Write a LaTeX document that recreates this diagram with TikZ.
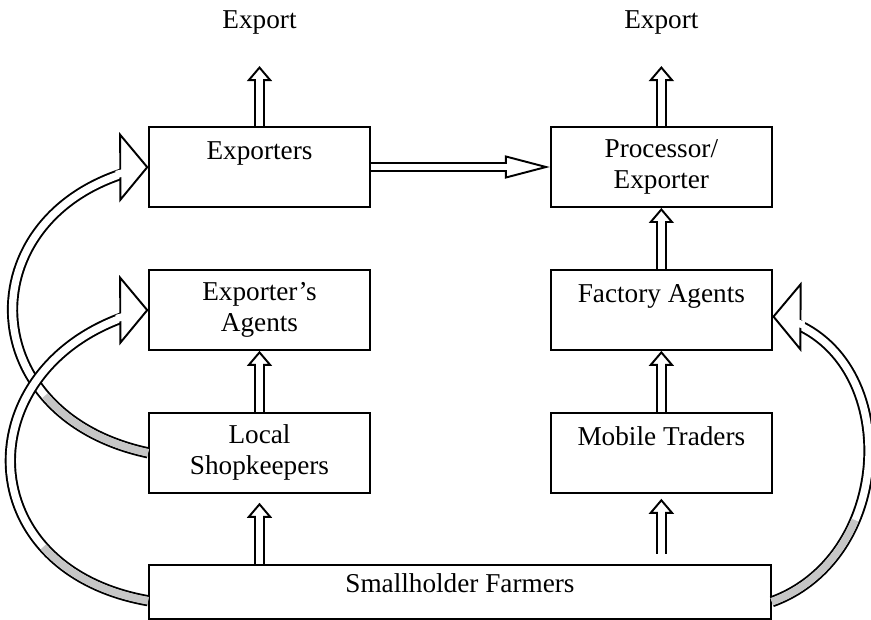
\documentclass[tikz,border=0pt]{standalone}
\usepackage{fontspec}
\setmainfont{Liberation Serif}
\usetikzlibrary{positioning,arrows.meta,decorations.markings}

\begin{document}
\begin{tikzpicture}[
  x=0.02cm, y=-0.02cm,
  font=\fontsize{15.5}{17.5}\selectfont,
  box/.style={draw, line width=1.1pt, align=center, minimum width=4.42cm,
    minimum height=1.6cm},
  raised/.style={text height=11pt, text depth=19pt},
  flow/.style={line width=6pt,
    -{Triangle[open, length=0.3cm, width=0.5cm, line width=1.1pt]},
    postaction={draw=white, line width=3.8pt, arrows=-, shorten >=0.24cm}},
  wide/.style={line width=5.5pt,
    -{Triangle[open, length=0.9cm, width=0.46cm, line width=1.1pt]},
    postaction={draw=white, line width=3.4pt, arrows=-, shorten >=0.84cm}},
  bypass/.style={line width=6.4pt, shorten >=4pt,
    postaction={draw=white, line width=4.2pt},
    postaction={draw=gray!45, line width=4.2pt,
      dash pattern=on 2.4cm off 50cm},
    postaction={shorten >=0pt, decorate, decoration={markings,
      mark=at position 0.998 with {
      \draw[black, line width=1.1pt, fill=white, rotate=#1]
        (0,0) -- (-0.54cm,0.65cm) -- (-0.54cm,-0.65cm) -- cycle;
      \fill[white] (-0.64cm,-2.1pt) rectangle (-0.45cm,2.1pt);}}}},
]
\useasboundingbox (0,0) rectangle (871,619);
\node[box, raised] (exp) at (259.5,167) {Exporters};
\node[box, right=3.58cm of exp] (proc) {Processor/\\Exporter};
\node[box, below=1.22cm of exp] (agents) {Exporter's\\Agents};
\node[box, below=1.22cm of agents] (shop) {Local\\Shopkeepers};
\node[box, raised, below=1.22cm of proc] (factory) {Factory Agents};
\node[box, raised, below=1.22cm of factory] (mobile) {Mobile Traders};
\node[box, minimum width=12.44cm, minimum height=1.08cm, inner ysep=2pt,
  text height=11pt, text depth=10pt, below=1.4cm of shop.south west,
  anchor=north west] (farm) {Smallholder Farmers};
\node[above=1.72cm of exp] (out1) {Export};
\node[above=1.72cm of proc] (out2) {Export};
% straight flows
\draw[flow] (exp.north) -- ([yshift=-0.52cm]out1.south);
\draw[flow] (proc.north) -- ([yshift=-0.52cm]out2.south);
\draw[wide] (exp.east) -- (proc.west);
\draw[flow] (shop.north) -- (agents.south);
\draw[flow] (farm.north -| shop) -- ([yshift=-0.18cm]shop.south);
\draw[flow] (factory.north) -- (proc.south);
\draw[flow] (mobile.north) -- (factory.south);
\draw[flow] ([yshift=0.2cm]farm.north -| mobile) -- ([yshift=-0.1cm]mobile.south);
% bypass loops
\draw[bypass=-13] (shop.west) to[out=168, in=193, looseness=1.65] (exp.west);
\draw[bypass=-15] ([yshift=-0.18cm]farm.west) to[out=170, in=195, looseness=1.65] (agents.west);
\draw[bypass=15] ([yshift=-0.2cm]farm.east) to[out=20, in=-15, looseness=1.2]
  ([yshift=-0.13cm]factory.east);
\end{tikzpicture}
\end{document}
